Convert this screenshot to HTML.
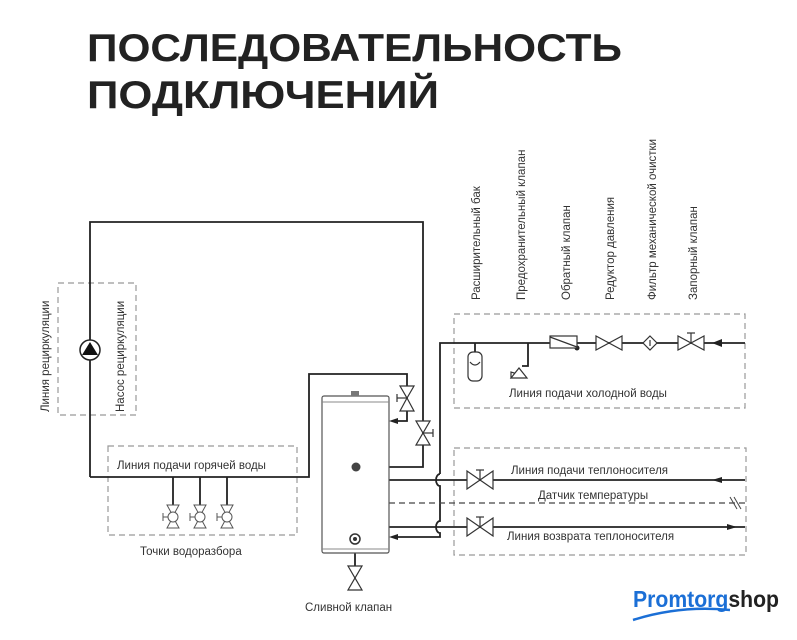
<!DOCTYPE html>
<html><head><meta charset="utf-8"><style>
html,body{margin:0;padding:0;background:#fff;}
svg{display:block;}
text{font-family:"Liberation Sans",sans-serif;fill:#333;}
</style></head><body>
<svg width="797" height="640" viewBox="0 0 797 640" xmlns="http://www.w3.org/2000/svg">
<text x="87" y="61" font-size="39" font-weight="bold" textLength="535" lengthAdjust="spacingAndGlyphs" style="fill:#222">ПОСЛЕДОВАТЕЛЬНОСТЬ</text>
<text x="87" y="108" font-size="39" font-weight="bold" textLength="352" lengthAdjust="spacingAndGlyphs" style="fill:#222">ПОДКЛЮЧЕНИЙ</text>

<g fill="none" stroke="#999" stroke-width="1.2" stroke-dasharray="6,4">
<rect x="58" y="283" width="78" height="132"/>
<rect x="108" y="446" width="189" height="89"/>
<rect x="454" y="314" width="291" height="94"/>
<rect x="454" y="448" width="292" height="107"/>
</g>

<g fill="none" stroke="#222" stroke-width="1.8">
<polyline points="90,477 90,222 423,222 423,467 389,467"/>
<polyline points="90,477 309,477 309,374 407,374 407,421 392,421"/>
<line x1="173" y1="477" x2="173" y2="505"/>
<line x1="200" y1="477" x2="200" y2="505"/>
<line x1="227" y1="477" x2="227" y2="505"/>
<polyline points="745,343 440,343 440,474"/>
<path d="M440,474 a4,6 0 0 0 0,12 L440,521 a4,6 0 0 0 0,12 L440,537 L392,537"/>
<line x1="475" y1="343" x2="475" y2="352"/>
<polyline points="528,343 528,366 522,366"/>
<line x1="389" y1="480" x2="745" y2="480"/>
<line x1="389" y1="527" x2="745" y2="527"/>
<line x1="355" y1="540" x2="355" y2="566"/>
</g>
<line x1="389" y1="503" x2="745" y2="503" stroke="#444" stroke-width="1.3" stroke-dasharray="6,4"/>
<g stroke="#444" stroke-width="1"><line x1="730" y1="497" x2="737" y2="509"/><line x1="734" y1="497" x2="741" y2="509"/></g>

<circle cx="90" cy="350" r="10" fill="#fff" stroke="#222" stroke-width="1.5"/>
<polygon points="90,342 82,355 98,355" fill="#111"/>

<rect x="322" y="396" width="67" height="157" rx="2" fill="#fff" stroke="#555" stroke-width="1.2"/>
<line x1="322" y1="402" x2="389" y2="402" stroke="#888"/>
<line x1="322" y1="549" x2="389" y2="549" stroke="#888"/>
<rect x="351" y="391" width="8" height="5" fill="#777"/>
<circle cx="356" cy="467" r="4.5" fill="#444"/>
<circle cx="355" cy="539" r="5" fill="#fff" stroke="#333" stroke-width="1.5"/><circle cx="355" cy="539" r="2" fill="#333"/>
<g fill="#222">
<polygon points="389,421 398,418 398,424"/>
<polygon points="389,537 398,534 398,540"/>
<polygon points="712,343 722,339 722,347"/>
<polygon points="712,480 722,477 722,483"/>
<polygon points="737,527 727,524 727,530"/>
<circle cx="577" cy="348" r="2.5"/>
</g>

<g fill="#fff" stroke="#333" stroke-width="1.2">
<polygon points="400,386 414,386 407,398"/><polygon points="400,411 414,411 407,398"/><line x1="407" y1="398" x2="397" y2="398"/><line x1="397" y1="394" x2="397" y2="402"/>
<polygon points="416,421 430,421 423,433"/><polygon points="416,445 430,445 423,433"/><line x1="423" y1="433" x2="433" y2="433"/><line x1="433" y1="429" x2="433" y2="437"/>
<polygon points="348,566 362,566 355,578"/><polygon points="348,590 362,590 355,578"/>
<polygon points="467,471 467,489 480,480"/><polygon points="493,471 493,489 480,480"/><line x1="480" y1="480" x2="480" y2="470"/><line x1="476" y1="470" x2="484" y2="470"/>
<polygon points="467,518 467,536 480,527"/><polygon points="493,518 493,536 480,527"/><line x1="480" y1="527" x2="480" y2="517"/><line x1="476" y1="517" x2="484" y2="517"/>
<rect x="468" y="352" width="14" height="29" rx="5"/><path d="M470,362 q5,6 10,0"/>
<polygon points="511,372 511,378 521,375"/><polygon points="511,378 527,378 519,368"/>
<rect x="550" y="336" width="27" height="12"/><line x1="550" y1="337" x2="577" y2="347"/>
<polygon points="596,336 596,350 609,343"/><polygon points="622,336 622,350 609,343"/>
<polygon points="650,336 657,343 650,350 643,343"/><line x1="650" y1="340" x2="650" y2="346"/>
<polygon points="678,336 678,350 691,343"/><polygon points="704,336 704,350 691,343"/><line x1="691" y1="343" x2="691" y2="333"/><line x1="687" y1="333" x2="695" y2="333"/>
</g>
<g fill="#fff" stroke="#555" stroke-width="1">
<g transform="translate(173,0)"><polygon points="-6,505 6,505 0,516"/><polygon points="-6,528 6,528 0,517"/><circle cx="0" cy="517" r="5"/><line x1="-5" y1="517" x2="-10" y2="517"/><line x1="-10" y1="513" x2="-10" y2="521"/></g>
<g transform="translate(200,0)"><polygon points="-6,505 6,505 0,516"/><polygon points="-6,528 6,528 0,517"/><circle cx="0" cy="517" r="5"/><line x1="-5" y1="517" x2="-10" y2="517"/><line x1="-10" y1="513" x2="-10" y2="521"/></g>
<g transform="translate(227,0)"><polygon points="-6,505 6,505 0,516"/><polygon points="-6,528 6,528 0,517"/><circle cx="0" cy="517" r="5"/><line x1="-5" y1="517" x2="-10" y2="517"/><line x1="-10" y1="513" x2="-10" y2="521"/></g>
</g>

<g font-size="11.5">
<text x="117" y="469">Линия подачи горячей воды</text>
<text x="140" y="555">Точки водоразбора</text>
<text x="305" y="611">Сливной клапан</text>
<text x="509" y="397">Линия подачи холодной воды</text>
<text x="511" y="474">Линия подачи теплоносителя</text>
<text x="538" y="499">Датчик температуры</text>
<text x="507" y="540">Линия возврата теплоносителя</text>
<text transform="translate(49,412) rotate(-90)">Линия рециркуляции</text>
<text transform="translate(124,412) rotate(-90)">Насос рециркуляции</text>
<text transform="translate(480,300) rotate(-90)">Расширительный бак</text>
<text transform="translate(525,300) rotate(-90)">Предохранительный клапан</text>
<text transform="translate(570,300) rotate(-90)">Обратный клапан</text>
<text transform="translate(614,300) rotate(-90)">Редуктор давления</text>
<text transform="translate(656,300) rotate(-90)">Фильтр механической очистки</text>
<text transform="translate(697,300) rotate(-90)">Запорный клапан</text>
</g>

<text x="633" y="607" font-size="23" font-weight="bold" textLength="146" lengthAdjust="spacingAndGlyphs"><tspan style="fill:#1b6fd6">Promtorg</tspan><tspan style="fill:#222">shop</tspan></text>
<path d="M633,620 Q680,605 730,610" fill="none" stroke="#1b6fd6" stroke-width="2.5"/>
</svg>
</body></html>
